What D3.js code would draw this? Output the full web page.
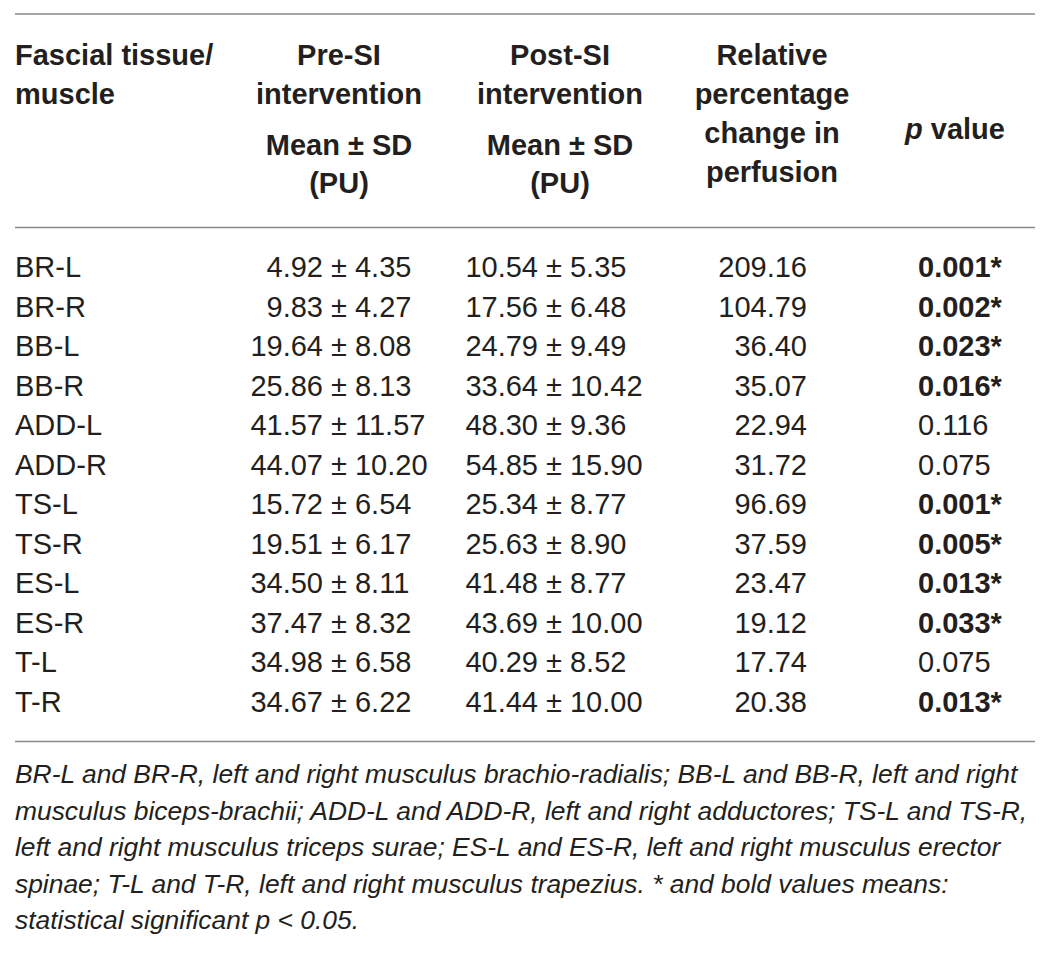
<!DOCTYPE html>
<html>
<head>
<meta charset="utf-8">
<script src="https://cdn.jsdelivr.net/npm/d3@7"></script>
<style>
  html, body { margin: 0; padding: 0; background: #fff; }
  svg { display: block; font-family: "Liberation Sans", Arial, Helvetica, sans-serif; }
  text { fill: #231f20; }
</style>
</head>
<body>
<div id="table"></div>
<script>
const muscles = ["BR-L", "BR-R", "BB-L", "BB-R", "ADD-L", "ADD-R", "TS-L", "TS-R", "ES-L", "ES-R", "T-L", "T-R"];
const preMean = [4.92, 9.83, 19.64, 25.86, 41.57, 44.07, 15.72, 19.51, 34.50, 37.47, 34.98, 34.67];
const preSD = [4.35, 4.27, 8.08, 8.13, 11.57, 10.20, 6.54, 6.17, 8.11, 8.32, 6.58, 6.22];
const postMean = [10.54, 17.56, 24.79, 33.64, 48.30, 54.85, 25.34, 25.63, 41.48, 43.69, 40.29, 41.44];
const postSD = [5.35, 6.48, 9.49, 10.42, 9.36, 15.90, 8.77, 8.90, 8.77, 10.00, 8.52, 10.00];
const relChange = [209.16, 104.79, 36.40, 35.07, 22.94, 31.72, 96.69, 37.59, 23.47, 19.12, 17.74, 20.38];
const pValues = [0.001, 0.002, 0.023, 0.016, 0.116, 0.075, 0.001, 0.005, 0.013, 0.033, 0.075, 0.013];
const significant = [true, true, true, true, false, false, true, true, true, true, false, true];

const footnote = [
  "BR-L and BR-R, left and right musculus brachio-radialis; BB-L and BB-R, left and right",
  "musculus biceps-brachii; ADD-L and ADD-R, left and right adductores; TS-L and TS-R,",
  "left and right musculus triceps surae; ES-L and ES-R, left and right musculus erector",
  "spinae; T-L and T-R, left and right musculus trapezius. * and bold values means:",
  "statistical significant p < 0.05."
];

const W = 1054, H = 954;
const fs = 29;

const svg = d3.select("#table").append("svg")
  .attr("width", W)
  .attr("height", H);

// rows
const y = d3.scalePoint().domain(muscles).range([277, 711.5]);

// column anchors
const col = d3.scaleOrdinal()
  .domain(["name", "pre", "post", "rel", "p"])
  .range([15, 331, 546, 807, 918]);

// rules
const rules = [14, 227.5, 741.5];
svg.selectAll("line.rule")
  .data(rules)
  .enter().append("line")
  .attr("class", "rule")
  .attr("x1", 15).attr("x2", 1035)
  .attr("y1", d => d).attr("y2", d => d)
  .attr("stroke", "#8a8a8a")
  .attr("stroke-width", 1.6);

// header
const header = [
  { x: col("name"), anchor: "start", lines: [["Fascial tissue/", 65], ["muscle", 104]] },
  { x: 339, anchor: "middle", lines: [["Pre-SI", 65], ["intervention", 104], ["Mean ± SD", 155], ["(PU)", 193]] },
  { x: 560, anchor: "middle", lines: [["Post-SI", 65], ["intervention", 104], ["Mean ± SD", 155], ["(PU)", 193]] },
  { x: 772, anchor: "middle", lines: [["Relative", 65], ["percentage", 104], ["change in", 143], ["perfusion", 182]] }
];
header.forEach(h => {
  svg.selectAll(null)
    .data(h.lines)
    .enter().append("text")
    .attr("x", h.x)
    .attr("y", d => d[1])
    .attr("text-anchor", h.anchor)
    .attr("font-size", fs)
    .attr("font-weight", "bold")
    .text(d => d[0]);
});
const pHead = svg.append("text")
  .attr("x", 905).attr("y", 139)
  .attr("font-size", fs)
  .attr("font-weight", "bold");
pHead.append("tspan").attr("font-style", "italic").text("p");
pHead.append("tspan").text(" value");

const f2 = d3.format(".2f");
const f3 = d3.format(".3f");
const pmGap = 8; // width of a space

const rows = svg.selectAll("g.row")
  .data(muscles)
  .enter().append("g")
  .attr("class", "row")
  .attr("transform", d => `translate(0,${y(d)})`)
  .attr("font-size", fs);

rows.append("text")
  .attr("x", col("name"))
  .text(d => d);

// pre: aligned on the ±
rows.append("text")
  .attr("x", col("pre") - pmGap)
  .attr("text-anchor", "end")
  .text((d, i) => f2(preMean[i]));
rows.append("text")
  .attr("x", col("pre"))
  .text((d, i) => "± " + f2(preSD[i]));

// post
rows.append("text")
  .attr("x", col("post") - pmGap)
  .attr("text-anchor", "end")
  .text((d, i) => f2(postMean[i]));
rows.append("text")
  .attr("x", col("post"))
  .text((d, i) => "± " + f2(postSD[i]));

rows.append("text")
  .attr("x", col("rel"))
  .attr("text-anchor", "end")
  .text((d, i) => f2(relChange[i]));

rows.append("text")
  .attr("x", col("p"))
  .attr("font-weight", (d, i) => significant[i] ? "bold" : "normal")
  .text((d, i) => f3(pValues[i]) + (significant[i] ? "*" : ""));

// footnote
svg.selectAll("text.note")
  .data(footnote)
  .enter().append("text")
  .attr("class", "note")
  .attr("x", 15)
  .attr("y", (d, i) => 783 + i * 36.5)
  .attr("font-size", 26.4)
  .attr("font-style", "italic")
  .text(d => d);
</script>
</body>
</html>
